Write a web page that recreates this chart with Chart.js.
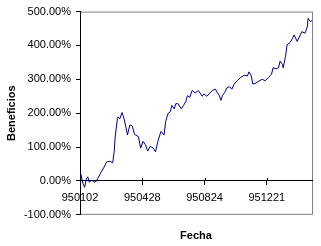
<!DOCTYPE html>
<html>
<head>
<meta charset="utf-8">
<script src="https://cdn.jsdelivr.net/npm/chart.js@4"></script>
<style>
  html, body { margin: 0; padding: 0; background: #fff; }
  canvas { display: block; }
</style>
</head>
<body>
<canvas id="profitChart" width="321" height="246"></canvas>
<script>
// Category labels shown on the date axis, one every 80 trading days
const tickDates = ['950102', '950428', '950824', '951221'];
const tickStep = 80;
const lastDay = 298;

// Trading day index (from 950102) and accumulated profit in %
const dayIndex = [0, 1, 3, 4, 6, 8, 10, 12, 15, 18, 21, 23, 27, 31, 34, 38, 42, 44, 45, 48,
    49, 51, 54, 57, 61, 64, 67, 70, 75, 78, 81, 84, 87, 90, 94, 97, 100, 104, 108, 110,
    113, 116, 118, 121, 123, 126, 130, 133, 136, 138, 141, 144, 148, 152, 157, 159, 163, 167, 170, 174,
    176, 179, 181, 183, 186, 189, 192, 195, 198, 202, 206, 208, 211, 215, 217, 220, 222, 226, 229, 234,
    238, 242, 246, 248, 252, 255, 257, 260, 261, 264, 266, 270, 273, 275, 279, 283, 285, 289, 292, 293,
    296, 298];
const profit = [0, 20, 0, -9, -19, 5, 12, -4, 3, -4, -1, 8, 25, 41, 56, 58, 54, 88, 126, 184,
    189, 183, 202, 180, 136, 165, 163, 138, 131, 97, 117, 107, 88, 102, 97, 86, 117, 146, 136, 175,
    199, 204, 223, 213, 228, 228, 213, 223, 235, 252, 247, 267, 260, 267, 250, 257, 250, 260, 267, 271,
    262, 252, 238, 252, 262, 276, 278, 271, 286, 296, 305, 308, 312, 310, 322, 310, 286, 289, 294, 300,
    296, 305, 315, 334, 331, 334, 354, 344, 334, 368, 402, 409, 421, 431, 412, 431, 441, 436, 455, 480,
    470, 474];

document.addEventListener('DOMContentLoaded', function() {
    Chart.defaults.font.family = "'Liberation Sans', Arial, sans-serif";
    Chart.defaults.font.size = 11;
    Chart.defaults.color = '#000';

    // Excel-like frame: grey plot border, cross tick marks on the date axis
    const plotFrame = {
        id: 'plotFrame',
        beforeDraw(chart) {
            const { ctx, chartArea: a } = chart;
            ctx.save();
            ctx.fillStyle = '#fff';
            ctx.fillRect(0, 0, chart.width, chart.height);
            ctx.strokeStyle = '#808080';
            ctx.lineWidth = 1;
            ctx.strokeRect(a.left + 0.5, a.top + 0.5, a.right - a.left, a.bottom - a.top - 1);
            ctx.restore();
        },
        afterDraw(chart) {
            const { ctx } = chart;
            const xs = chart.scales.x;
            const y0 = Math.round(chart.scales.y.getPixelForValue(0));
            ctx.save();
            ctx.strokeStyle = '#000';
            ctx.lineWidth = 1;
            xs.ticks.forEach(function(t) {
                const px = Math.round(xs.getPixelForValue(t.value)) + 0.5;
                ctx.beginPath();
                ctx.moveTo(px, y0 - 3);
                ctx.lineTo(px, y0);
                ctx.stroke();
            });
            ctx.restore();
        }
    };

    const ctx = document.getElementById('profitChart').getContext('2d');
    new Chart(ctx, {
        type: 'line',
        data: {
            datasets: [{
                data: dayIndex.map((d, i) => ({ x: d, y: profit[i] })),
                borderColor: '#000080',
                borderWidth: 1,
                pointRadius: 0,
                tension: 0,
                fill: false
            }]
        },
        options: {
            responsive: false,
            animation: false,
            devicePixelRatio: 1,
            layout: {
                padding: { left: 0, right: 9, top: 8, bottom: 0 }
            },
            plugins: {
                legend: { display: false },
                tooltip: { enabled: false },
                title: {
                    display: true,
                    text: 'Fecha',
                    position: 'bottom',
                    fullSize: false,
                    font: { size: 11, weight: 'bold' },
                    padding: { top: 15, bottom: 3 }
                }
            },
            scales: {
                x: {
                    type: 'linear',
                    position: { y: 0 },
                    min: 0,
                    max: lastDay,
                    afterBuildTicks: function(scale) {
                        scale.ticks = tickDates.map((_, i) => ({ value: i * tickStep }));
                    },
                    ticks: {
                        autoSkip: false,
                        maxRotation: 0,
                        padding: 6,
                        callback: function(value) {
                            return tickDates[Math.round(value / tickStep)];
                        }
                    },
                    grid: {
                        drawOnChartArea: false,
                        color: '#000',
                        tickLength: 4
                    },
                    border: { color: '#000' }
                },
                y: {
                    min: -100,
                    max: 500,
                    afterFit: function(scale) {
                        scale.width = 80;
                    },
                    ticks: {
                        stepSize: 100,
                        padding: 5,
                        callback: function(value) {
                            return value.toFixed(2) + '%';
                        }
                    },
                    grid: {
                        drawOnChartArea: false,
                        color: '#000',
                        tickLength: 4
                    },
                    border: { color: '#000' },
                    title: {
                        display: true,
                        text: 'Beneficios',
                        font: { size: 11, weight: 'bold' },
                        padding: { top: 5, bottom: 0 }
                    }
                }
            }
        },
        plugins: [plotFrame]
    });
});
</script>
</body>
</html>
